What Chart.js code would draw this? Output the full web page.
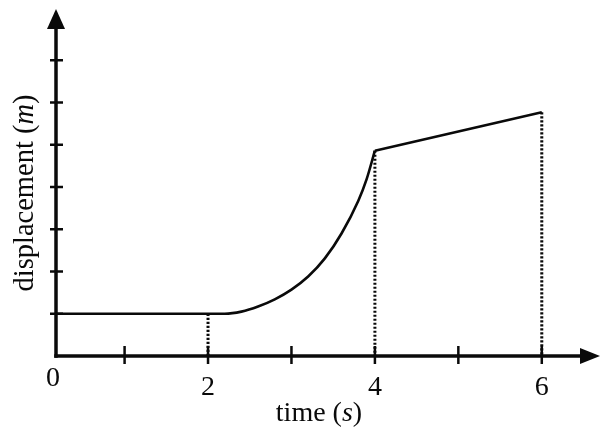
<!DOCTYPE html>
<html><head><meta charset="utf-8">
<script src="https://cdn.jsdelivr.net/npm/chart.js@4/dist/chart.umd.min.js"></script>
<style>html,body{margin:0;padding:0;background:#fff;}#wrap{width:603px;height:437px;}</style>
</head><body><div id="wrap"><canvas id="c" width="603" height="437"></canvas></div>
<script>
// time (s) and displacement (m)
const curveTime = [0, 2.2, 2.4, 2.6, 2.8, 3.0, 3.2, 3.4, 3.6, 3.8, 3.9, 4.0, 6.0];
const curveDisp = [1.0, 1.0, 1.05, 1.17, 1.34, 1.57, 1.88, 2.31, 2.9, 3.67, 4.18, 4.86, 5.77];
const cornerTime = 4; // the curve ends in a sharp corner here
// dotted drop lines
const guideTime = [2, 4, 6];
const guideDisp = [1.0, 4.86, 5.77];
// axis ticks and labels
const xTickValues = [1, 2, 3, 4, 5, 6];
const xLabelValues = [2, 4, 6];
const xLabelTexts = ['2', '4', '6'];
const originLabel = '0';
const yTickValues = [1, 2, 3, 4, 5, 6, 7];
const xTitleParts = ['time (', 's', ')'];
const yTitleParts = ['displacement (', 'm', ')'];

const INK = '#0a0a0a';
const SERIF = '"Liberation Serif", "DejaVu Serif", serif';

const pts = curveTime.map((t, i) => ({x: t, y: curveDisp[i]}));
const datasets = [{
  data: pts.filter(p => p.x <= cornerTime),
  borderColor: INK, borderWidth: 2.6, pointRadius: 0, cubicInterpolationMode: 'monotone', fill: false
}, {
  data: pts.filter(p => p.x >= cornerTime),
  borderColor: INK, borderWidth: 2.6, pointRadius: 0, tension: 0, fill: false
}];
guideTime.forEach((t, i) => datasets.push({
  data: [{x: t, y: guideDisp[i]}, {x: t, y: 0}],
  borderColor: INK, borderWidth: 3, borderDash: [2.2, 1.8], pointRadius: 0, fill: false
}));

function drawParts(ctx, parts, cx, cy, size) {
  const fonts = parts.map((p, i) => (i === 1 ? 'italic ' : '') + size + 'px ' + SERIF);
  let w = 0; const ws = [];
  parts.forEach((p, i) => { ctx.font = fonts[i]; const m = ctx.measureText(p).width; ws.push(m); w += m; });
  let x = cx - w / 2;
  ctx.textAlign = 'left'; ctx.textBaseline = 'middle';
  parts.forEach((p, i) => { ctx.font = fonts[i]; ctx.fillText(p, x, cy); x += ws[i]; });
}

const axesPlugin = {
  id: 'axesPlugin',
  afterDatasetsDraw(chart) {
    const ctx = chart.ctx, a = chart.chartArea;
    const xs = chart.scales.x, ys = chart.scales.y;
    const L = a.left, B = a.bottom;
    ctx.save();
    ctx.strokeStyle = INK; ctx.fillStyle = INK; ctx.lineCap = 'butt';
    // axis lines
    ctx.lineWidth = 3.5;
    ctx.beginPath(); ctx.moveTo(L, B + 1.75); ctx.lineTo(L, 20); ctx.stroke();
    ctx.beginPath(); ctx.moveTo(L - 1.75, B); ctx.lineTo(585, B); ctx.stroke();
    // arrowheads
    ctx.beginPath(); ctx.moveTo(L, 9); ctx.lineTo(L - 9, 29); ctx.lineTo(L + 9, 29); ctx.closePath(); ctx.fill();
    ctx.beginPath(); ctx.moveTo(600, B); ctx.lineTo(580, B - 8); ctx.lineTo(580, B + 8); ctx.closePath(); ctx.fill();
    // tick marks
    ctx.lineWidth = 2.5;
    yTickValues.forEach(v => {
      const y = ys.getPixelForValue(v);
      ctx.beginPath(); ctx.moveTo(L - 6, y); ctx.lineTo(L + 7, y); ctx.stroke();
    });
    xTickValues.forEach(v => {
      const x = xs.getPixelForValue(v);
      ctx.beginPath(); ctx.moveTo(x, B - 10); ctx.lineTo(x, B + 8); ctx.stroke();
    });
    // tick labels
    ctx.font = '28px ' + SERIF; ctx.textAlign = 'center'; ctx.textBaseline = 'middle';
    ctx.fillText(originLabel, L - 3, B + 23);
    xLabelValues.forEach((v, i) => ctx.fillText(xLabelTexts[i], xs.getPixelForValue(v), B + 32));
    // axis titles
    drawParts(ctx, xTitleParts, 319, 414, 28);
    ctx.save(); ctx.translate(26, 193); ctx.rotate(-Math.PI / 2);
    drawParts(ctx, yTitleParts, 0, 0, 28.5);
    ctx.restore();
    ctx.restore();
  }
};

new Chart(document.getElementById('c'), {
  type: 'line',
  data: {datasets},
  options: {
    responsive: false, animation: false, devicePixelRatio: 1,
    layout: {padding: {left: 56, right: 22, top: 18, bottom: 81}},
    plugins: {legend: {display: false}, tooltip: {enabled: false}, title: {display: false}},
    scales: {
      x: {type: 'linear', min: 0.178, max: 6.47, display: false},
      y: {type: 'linear', min: 0, max: 8, display: false}
    }
  },
  plugins: [axesPlugin]
});
</script></body></html>
